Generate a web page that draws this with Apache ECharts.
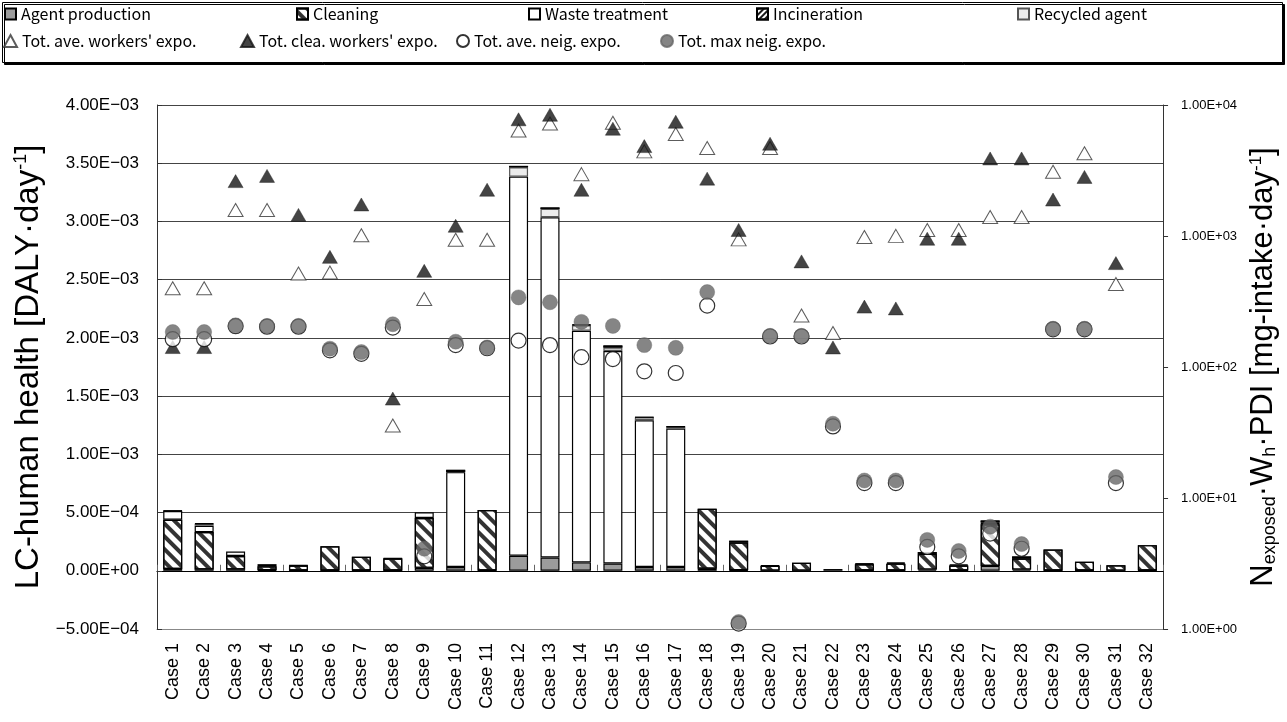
<!DOCTYPE html>
<html><head><meta charset="utf-8">
<script src="https://cdn.jsdelivr.net/npm/echarts@6/dist/echarts.min.js"></script>
<style>html,body{margin:0;padding:0;background:#fff}#c{width:1287px;height:722px}</style>
</head><body><div id="c"></div>
<script>
const categories = ['Case 1','Case 2','Case 3','Case 4','Case 5','Case 6','Case 7','Case 8','Case 9','Case 10','Case 11','Case 12','Case 13','Case 14','Case 15','Case 16','Case 17','Case 18','Case 19','Case 20','Case 21','Case 22','Case 23','Case 24','Case 25','Case 26','Case 27','Case 28','Case 29','Case 30','Case 31','Case 32'];

// LC-human health contributions [DALY/day]
const agentProduction = [1.5e-5,1.2e-5,1.2e-5,5e-6,3e-6,3e-6,3e-6,3e-6,2.5e-5,3.3e-5,3e-6,1.29e-4,1.14e-4,7.2e-5,6.3e-5,3.3e-5,3.3e-5,1.8e-5,5e-6,null,null,null,3e-6,3e-6,1e-5,3e-6,4.2e-5,1e-5,3e-6,3e-6,null,3e-6];
const cleaning = [4.23e-4,3.2e-4,1.15e-4,3.4e-5,4.2e-5,2.08e-4,1.18e-4,1.02e-4,4.28e-4,null,5.18e-4,null,null,null,null,null,null,5.14e-4,2.38e-4,4.2e-5,6.8e-5,null,5.2e-5,5.8e-5,1.35e-4,4.2e-5,3.57e-4,9.5e-5,1.8e-4,7.5e-5,4.8e-5,2.17e-4];
const wasteTreatment = [7.5e-5,5.5e-5,3.8e-5,1.8e-5,3e-6,null,null,3e-6,5e-5,8.14e-4,null,3.256e-3,2.922e-3,1.989e-3,1.824e-3,1.26e-3,1.188e-3,null,null,3e-6,null,1.5e-5,null,null,null,null,1.8e-5,null,null,null,null,null];
const recycledAgent = [null,1.5e-5,null,null,null,null,null,null,null,null,null,8e-5,7.2e-5,4.8e-5,3e-5,2.4e-5,1.5e-5,null,null,null,null,null,null,null,null,null,null,null,null,null,null,null];
const incineration = [3e-6,5e-6,null,null,null,null,null,null,null,2e-5,null,1.2e-5,1.2e-5,6e-6,1.8e-5,3e-6,3e-6,null,1.5e-5,null,null,null,8e-6,1e-5,1.5e-5,9e-6,1.5e-5,1.8e-5,null,null,null,null];

// Exposure [mg-intake/day], right log axis
const totAveWorkers = [399,399,1578,1578,517,526,1014,35.8,330,936,936,6385,7225,2965,7310,4425,6010,4700,942,4700,247,182,984,1002,1112,1112,1396,1396,3098,4285,430,null];
const totCleaWorkers = [142,142,2624,2877,1449,693,1741,57.4,542,1197,2254,7780,8420,2254,6590,4855,7450,2740,1112,5060,640,141,289,280,953,953,3908,3908,1898,2825,621,null];
const totAveNeig = [163,163,205,203,203,134,126,200,3.59,147,139,159,147,119,115,92.7,90,294,1.1,171,171,35.2,13.0,13.0,4.23,3.59,5.35,4.1,194,194,13.0,null];
const totMaxNeig = [185,185,208,206,206,138,130,212,4.1,156,141,340,312,221,206,147,140,373,1.13,173,173,36.9,13.6,13.6,4.79,3.94,6.04,4.45,196,196,14.45,null];

const leftTicks = {min: -5e-4, max: 4e-3, interval: 5e-4};
const rightTicks = {min: 1, max: 10000};

function sci(v, minusSign) {
  let s = Number(v).toExponential(2);
  let [m, e] = s.split('e');
  let sign = e[0] === '-' ? '-' : '+';
  let d = e.replace(/^[+-]/, '');
  if (d.length < 2) d = '0' + d;
  let out = m + 'E' + sign + d;
  if (minusSign) out = out.replace(/-/g, '\u2212');
  return out;
}

const chart = echarts.init(document.getElementById('c'), null, {renderer: 'canvas'});
const F = 'Liberation Sans, Arial, sans-serif';
const LF = 'Noto Sans CJK JP, sans-serif';

const stripeDecal = {symbol: 'rect', symbolSize: 1, dashArrayX: [[1, 0]], dashArrayY: [4, 5], rotation: Math.PI / 4, color: '#333'};
const incDecal = {symbol: 'rect', symbolSize: 1, dashArrayX: [[1, 0]], dashArrayY: [2, 2], rotation: -Math.PI / 4, color: '#1a1a1a'};

const barBase = {type: 'bar', stack: 'lc', barWidth: 19, xAxisIndex: 0, yAxisIndex: 0};
function legendItem(name, left, top, w, h) {
  return {data: [name], left: left, top: top, padding: 0, itemGap: 0, itemWidth: w || 11, itemHeight: h || 11,
    textStyle: {fontFamily: LF, fontSize: 16, color: '#000'}, selectedMode: false};
}

const option = {
  animation: false,
  backgroundColor: '#fff',
  graphic: [{type: 'rect', left: 2, top: 2, shape: {width: 1280, height: 60},
    style: {fill: '#fff', stroke: '#000', lineWidth: 1, shadowColor: '#000', shadowOffsetX: 2, shadowOffsetY: 2, shadowBlur: 0}, z: -1}],
  legend: [
    Object.assign(legendItem('Agent production', 4, 6), {icon: 'rect'}),
    Object.assign(legendItem('Cleaning', 296, 6), {icon: 'rect'}),
    Object.assign(legendItem('Waste treatment', 528, 6), {icon: 'rect'}),
    Object.assign(legendItem('Incineration', 756, 6), {icon: 'rect'}),
    Object.assign(legendItem('Recycled agent', 1017, 6), {icon: 'rect'}),
    legendItem("Tot. ave. workers' expo.", 3, 33, 13, 12),
    legendItem("Tot. clea. workers' expo.", 240, 33, 13, 12),
    legendItem('Tot. ave. neig. expo.', 456, 33, 12, 12),
    legendItem('Tot. max neig. expo.', 660, 33, 12, 12)
  ],
  grid: {left: 157, right: 122, top: 105, bottom: 93, containLabel: false},
  xAxis: [
    {type: 'category', data: categories, position: 'bottom',
      axisLine: {onZero: false, lineStyle: {color: '#888', width: 1}},
      axisTick: {show: false},
      axisLabel: {rotate: 90, fontFamily: F, fontSize: 18, color: '#000', margin: 14, interval: 0},
      splitLine: {show: false}},
    {type: 'category', data: categories, position: 'bottom',
      axisLine: {onZero: true, lineStyle: {color: '#000', width: 1.2}},
      axisTick: {show: true, inside: true, length: 6, lineStyle: {color: '#666'}},
      axisLabel: {show: false}, splitLine: {show: false}}
  ],
  yAxis: [
    {type: 'value', min: leftTicks.min, max: leftTicks.max, interval: leftTicks.interval, position: 'left',
      name: '{a|LC-human health [DALY\u00b7day}{s|-1}{a|]}', nameLocation: 'middle', nameRotate: 90, nameGap: 109,
      nameTextStyle: {rich: {a: {fontFamily: F, fontSize: 33, color: '#000'}, s: {fontFamily: F, fontSize: 18, color: '#000', verticalAlign: 'top'}}},
      axisLine: {show: true, lineStyle: {color: '#333', width: 1}},
      axisTick: {show: true, inside: true, length: 5, lineStyle: {color: '#333'}},
      axisLabel: {fontFamily: F, fontSize: 17, color: '#000', margin: 18, formatter: v => sci(v, true)},
      splitLine: {show: true, lineStyle: {color: '#444', width: 1}}},
    {type: 'log', logBase: 10, min: rightTicks.min, max: rightTicks.max, position: 'right',
      name: '{a|N}{b|exposed}{a|\u00b7W}{b|h}{a|\u00b7PDI [mg-intake\u00b7day}{s|-1}{a|]}', nameLocation: 'middle', nameRotate: 90, nameGap: 78,
      nameTextStyle: {rich: {a: {fontFamily: F, fontSize: 31, color: '#000'}, b: {fontFamily: F, fontSize: 18, color: '#000', verticalAlign: 'bottom'}, s: {fontFamily: F, fontSize: 17, color: '#000', verticalAlign: 'top'}}},
      axisLine: {show: true, lineStyle: {color: '#333', width: 1}},
      axisTick: {show: true, inside: false, length: 5, lineStyle: {color: '#333'}},
      minorTick: {show: false},
      axisLabel: {fontFamily: F, fontSize: 13, color: '#000', margin: 18, formatter: v => sci(v, false)},
      splitLine: {show: false}}
  ],
  series: [
    Object.assign({}, barBase, {name: 'Agent production', data: agentProduction, itemStyle: {color: '#9c9c9c', borderColor: '#000', borderWidth: 1.2}}),
    Object.assign({}, barBase, {name: 'Cleaning', data: cleaning, itemStyle: {color: '#fff', borderColor: '#000', borderWidth: 1.2, decal: stripeDecal}}),
    Object.assign({}, barBase, {name: 'Waste treatment', data: wasteTreatment, itemStyle: {color: '#fff', borderColor: '#000', borderWidth: 1.2}}),
    Object.assign({}, barBase, {name: 'Recycled agent', data: recycledAgent, itemStyle: {color: '#ececec', borderColor: '#555', borderWidth: 1.2}}),
    Object.assign({}, barBase, {name: 'Incineration', data: incineration, itemStyle: {color: '#fff', borderColor: '#000', borderWidth: 1.2, decal: incDecal}}),
    {type: 'scatter', name: "Tot. ave. workers' expo.", yAxisIndex: 1, xAxisIndex: 0, data: totAveWorkers, symbol: 'triangle', symbolSize: [15, 13],
      itemStyle: {color: '#fff', borderColor: '#333', borderWidth: 1}, z: 3},
    {type: 'scatter', name: "Tot. clea. workers' expo.", yAxisIndex: 1, xAxisIndex: 0, data: totCleaWorkers, symbol: 'triangle', symbolSize: [15, 13],
      itemStyle: {color: '#151515', borderColor: '#151515', borderWidth: 0.5}, z: 4},
    {type: 'scatter', name: 'Tot. ave. neig. expo.', yAxisIndex: 1, xAxisIndex: 0, data: totAveNeig, symbol: 'circle', symbolSize: 15,
      itemStyle: {color: '#fff', borderColor: '#000', borderWidth: 1.2}, z: 5},
    {type: 'scatter', name: 'Tot. max neig. expo.', yAxisIndex: 1, xAxisIndex: 0, data: totMaxNeig, symbol: 'circle', symbolSize: 15,
      itemStyle: {color: '#666', borderColor: '#666', borderWidth: 0.5}, z: 6}
  ]
};
chart.setOption(option);
</script></body></html>
